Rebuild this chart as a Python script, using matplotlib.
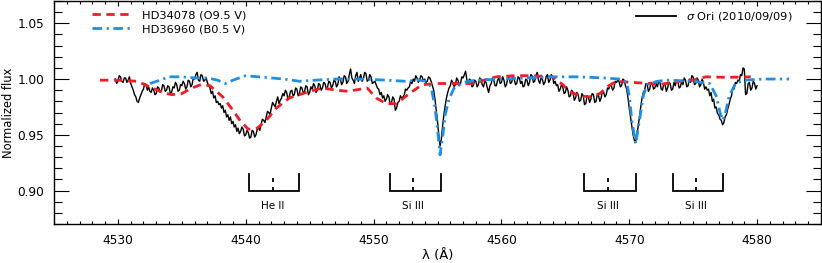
import numpy as np
import matplotlib
matplotlib.use("Agg")
import matplotlib.pyplot as plt
from matplotlib.ticker import MultipleLocator, FormatStrFormatter
from matplotlib.lines import Line2D

# ---------------- data ----------------
# Observed sigma Ori spectrum (0.1 A sampling, starting at 4529.8 A)
obs_start = 4529.8
obs_step = 0.1
obs_flux = [
    1.000, 0.996,                                                          # 4529.8-4529.9
    0.998, 1.003, 1.002, 0.998, 0.997, 1.001, 1.001, 0.997, 0.999, 1.002,  # 4530
    0.996, 0.993, 0.990, 0.986, 0.984, 0.980, 0.979, 0.983, 0.986, 0.989,  # 4531
    0.991, 0.996, 0.995, 0.990, 0.993, 0.989, 0.988, 0.992, 0.990, 0.986,  # 4532
    0.987, 0.993, 0.992, 0.988, 0.989, 0.995, 0.994, 0.989, 0.990, 0.994,  # 4533
    0.993, 0.987, 0.988, 0.993, 0.992, 0.997, 0.995, 0.989, 0.990, 0.995,  # 4534
    0.994, 0.998, 0.996, 0.991, 0.993, 0.999, 0.998, 0.993, 0.995, 1.001,  # 4535
    1.000, 1.004, 1.006, 0.999, 0.998, 1.004, 1.003, 0.998, 0.999, 1.001,  # 4536
    0.997, 0.994, 0.992, 0.987, 0.989, 0.983, 0.985, 0.979, 0.980, 0.977,  # 4537
    0.978, 0.974, 0.976, 0.970, 0.972, 0.966, 0.968, 0.963, 0.966, 0.960,  # 4538
    0.962, 0.957, 0.959, 0.953, 0.956, 0.951, 0.953, 0.957, 0.955, 0.949,  # 4539
    0.950, 0.954, 0.952, 0.947, 0.948, 0.954, 0.953, 0.948, 0.950, 0.955,  # 4540
    0.956, 0.954, 0.959, 0.964, 0.963, 0.961, 0.966, 0.971, 0.970, 0.968,  # 4541
    0.974, 0.979, 0.977, 0.975, 0.980, 0.984, 0.978, 0.981, 0.983, 0.987,  # 4542
    0.985, 0.990, 0.988, 0.982, 0.984, 0.989, 0.990, 0.985, 0.986, 0.992,  # 4543
    0.991, 0.985, 0.987, 0.993, 0.992, 0.987, 0.989, 0.994, 0.993, 0.986,  # 4544
    0.988, 0.993, 0.991, 0.996, 0.994, 0.988, 0.990, 0.996, 0.995, 0.990,  # 4545
    0.992, 0.997, 0.996, 0.991, 0.993, 0.998, 0.997, 0.992, 0.994, 0.999,  # 4546
    0.998, 0.993, 0.995, 1.002, 1.000, 0.995, 0.997, 1.003, 1.002, 0.996,  # 4547
    0.998, 1.004, 1.009, 1.001, 0.999, 0.996, 1.003, 1.006, 0.998, 1.001,  # 4548
    1.004, 0.998, 1.000, 1.006, 1.005, 0.998, 0.999, 1.004, 1.002, 0.996,  # 4549
    0.997, 0.998, 0.995, 0.992, 0.991, 0.986, 0.988, 0.983, 0.985, 0.980,  # 4550
    0.982, 0.986, 0.984, 0.977, 0.979, 0.984, 0.982, 0.972, 0.974, 0.979,  # 4551
    0.980, 0.985, 0.983, 0.984, 0.986, 0.991, 0.990, 0.992, 0.993, 0.998,  # 4552
    0.996, 1.000, 0.998, 1.003, 1.001, 0.997, 0.999, 1.003, 1.002, 0.998,  # 4553
    1.000, 0.997, 0.998, 1.002, 1.001, 0.998, 0.994, 0.990, 0.982, 0.972,  # 4554
    0.962, 0.950, 0.940, 0.946, 0.958, 0.968, 0.976, 0.983, 0.988, 0.992,  # 4555
    0.994, 0.999, 0.997, 0.993, 0.995, 1.001, 0.999, 0.994, 0.996, 1.002,  # 4556
    1.001, 1.004, 1.007, 0.999, 0.996, 1.000, 0.999, 0.993, 0.994, 0.999,  # 4557
    0.998, 0.993, 0.995, 1.001, 1.000, 0.995, 0.993, 0.998, 0.997, 0.992,  # 4558
    0.988, 0.994, 0.996, 1.001, 0.999, 0.994, 0.994, 0.999, 1.001, 0.996,  # 4559
    0.997, 1.002, 0.999, 0.993, 0.995, 1.001, 1.002, 0.996, 0.997, 1.002,  # 4560
    1.000, 0.995, 0.996, 1.002, 1.001, 0.996, 0.998, 0.993, 0.994, 1.000,  # 4561
    0.999, 0.994, 0.997, 1.004, 1.003, 0.997, 0.998, 1.003, 1.006, 0.999,  # 4562
    0.996, 1.001, 1.000, 0.995, 0.997, 1.002, 1.004, 0.997, 0.999, 1.004,  # 4563
    1.002, 0.996, 0.998, 0.994, 0.995, 0.989, 0.991, 0.995, 0.993, 0.987,  # 4564
    0.988, 0.993, 0.990, 0.984, 0.985, 0.990, 0.988, 0.981, 0.983, 0.988,  # 4565
    0.986, 0.980, 0.981, 0.987, 0.985, 0.977, 0.978, 0.985, 0.984, 0.979,  # 4566
    0.982, 0.987, 0.986, 0.979, 0.980, 0.986, 0.985, 0.980, 0.983, 0.989,  # 4567
    0.988, 0.984, 0.986, 0.992, 0.991, 0.995, 0.994, 0.990, 0.992, 0.998,  # 4568
    0.997, 0.999, 0.998, 0.993, 0.994, 1.000, 0.999, 0.994, 0.991, 0.983,  # 4569
    0.974, 0.966, 0.958, 0.950, 0.945, 0.944, 0.950, 0.958, 0.966, 0.975,  # 4570
    0.983, 0.988, 0.990, 0.996, 0.995, 0.989, 0.991, 0.997, 0.996, 0.991,  # 4571
    0.992, 0.996, 0.993, 0.998, 0.997, 0.991, 0.990, 0.996, 0.995, 0.989,  # 4572
    0.992, 0.997, 0.996, 0.990, 0.991, 0.997, 0.994, 0.999, 0.998, 0.992,  # 4573
    0.993, 0.998, 0.995, 1.001, 0.999, 0.993, 0.994, 1.000, 0.997, 1.003,  # 4574
    1.002, 0.995, 0.996, 1.001, 0.999, 0.993, 0.995, 1.000, 0.997, 0.991,  # 4575
    0.993, 0.990, 0.991, 0.985, 0.988, 0.980, 0.982, 0.974, 0.975, 0.969,  # 4576
    0.968, 0.964, 0.963, 0.959, 0.961, 0.966, 0.968, 0.973, 0.977, 0.982,  # 4577
    0.985, 0.992, 0.991, 0.997, 0.996, 0.999, 0.998, 1.004, 1.003, 1.010,  # 4578
    1.009, 0.986, 0.987, 0.996, 0.997, 0.990, 0.992, 0.998, 0.996, 0.991,  # 4579
    0.994,                                                                 # 4580.0
]

# HD34078 (O9.5 V) template
red_wl = [4528.6, 4530.0, 4531.5, 4532.5, 4533.5, 4534.2, 4535.0, 4535.8, 4536.5,
          4537.2, 4538.2, 4539.0, 4539.6, 4540.2, 4540.9, 4541.6, 4542.4, 4543.4,
          4545.0, 4546.0, 4547.1, 4548.0, 4549.5, 4550.2, 4551.0, 4551.8, 4552.8,
          4553.8, 4555.0, 4556.0, 4557.7, 4559.6, 4561.0, 4562.4, 4564.0, 4564.8,
          4565.3, 4566.1, 4566.9, 4567.7, 4568.4, 4569.0, 4570.2, 4571.6, 4572.3,
          4573.9, 4575.0, 4576.0, 4577.6, 4579.5]
red_fx = [0.999, 0.999, 0.998, 0.993, 0.988, 0.986, 0.987, 0.992, 0.995,
          0.994, 0.984, 0.972, 0.962, 0.955, 0.956, 0.963, 0.974, 0.983,
          0.989, 0.992, 0.990, 0.989, 0.992, 0.983, 0.978, 0.978, 0.987,
          0.995, 0.996, 0.996, 0.996, 1.002, 1.003, 1.003, 1.002, 0.995,
          0.989, 0.985, 0.984, 0.987, 0.994, 0.998, 0.997, 0.996, 0.995,
          0.998, 0.999, 1.002, 1.0015, 1.002]

# HD36960 (B0.5 V) template
blue_wl = [4532.5, 4533.3, 4534.0, 4535.0, 4536.0, 4537.0, 4537.8, 4538.4, 4539.0,
           4540.0, 4541.0, 4542.0, 4543.0, 4544.2, 4545.5, 4547.0, 4549.0, 4551.0,
           4552.5, 4553.5, 4554.1, 4554.5, 4554.8, 4555.0, 4555.2, 4555.4, 4555.6,
           4555.9, 4556.3, 4557.0, 4558.0, 4560.0, 4562.0, 4564.0, 4566.0, 4568.0,
           4569.3, 4569.8, 4570.0, 4570.2, 4570.5, 4570.8, 4571.1, 4571.4, 4572.2,
           4573.0, 4575.0, 4576.3, 4576.8, 4577.1, 4577.3, 4577.5, 4577.8, 4578.3,
           4579.0, 4580.5, 4582.5]
blue_fx = [0.996, 0.999, 1.002, 1.002, 1.001, 1.001, 0.999, 0.996, 0.999,
           1.003, 1.002, 1.001, 1.000, 0.998, 0.999, 1.000, 1.000, 0.999,
           0.998, 0.999, 0.998, 0.993, 0.975, 0.955, 0.932, 0.948, 0.968,
           0.982, 0.992, 0.997, 0.999, 1.000, 1.001, 1.002, 1.002, 1.001,
           1.000, 0.997, 0.985, 0.963, 0.942, 0.963, 0.985, 0.995, 0.998,
           0.999, 0.998, 0.996, 0.985, 0.970, 0.963, 0.968, 0.984, 0.996,
           0.999, 1.000, 1.000]

# line identifications
line_labels = ["He II", "Si III", "Si III", "Si III"]
line_left = [4540.25, 4551.25, 4566.45, 4573.4]
line_center = [4542.1, 4553.1, 4568.3, 4575.2]
line_right = [4544.2, 4555.25, 4570.5, 4577.35]

# ---------------- plot ----------------
RED = "#ee1c24"
BLUE = "#1e8fe1"

fig = plt.figure(figsize=(8.22, 2.63), dpi=100)
ax = fig.add_axes([54 / 822, 39 / 263, 767 / 822, 223 / 263])

obs_wl = obs_start + obs_step * np.arange(len(obs_flux))

ax.plot(obs_wl, obs_flux, color="black", lw=1.0, zorder=2)
ax.plot(red_wl, red_fx, color=RED, lw=2.0, dashes=(3.0, 2.0), zorder=3)
ax.plot(blue_wl, blue_fx, color=BLUE, lw=2.0, dashes=(3.5, 1.6, 0.8, 1.6), zorder=3)

br_base = 0.900
br_top = 0.915
for lab, l, c, r in zip(line_labels, line_left, line_center, line_right):
    ax.plot([l, l, r, r], [br_top, br_base, br_base, br_top], color="black", lw=1.3,
            solid_joinstyle="miter")
    ax.plot([c, c], [br_base, br_top], color="black", lw=1.3, dashes=(2.2, 2.8))
    ax.text(c, 0.8865, lab, ha="center", va="center", fontsize=7.5)

ax.set_xlim(4525, 4585)
ax.set_ylim(0.87, 1.07)
ax.xaxis.set_major_locator(MultipleLocator(10))
ax.xaxis.set_minor_locator(MultipleLocator(1))
ax.yaxis.set_major_locator(MultipleLocator(0.05))
ax.yaxis.set_minor_locator(MultipleLocator(0.01))
ax.yaxis.set_major_formatter(FormatStrFormatter("%.2f"))

ax.tick_params(axis="both", which="both", direction="in", top=True, right=True,
               labelsize=8.7, width=0.8)
ax.tick_params(axis="y", which="major", length=11, pad=7)
ax.tick_params(axis="y", which="minor", length=5.5)
ax.tick_params(axis="x", which="major", length=3.6, pad=7)
ax.tick_params(axis="x", which="minor", length=1.9)
for s in ax.spines.values():
    s.set_linewidth(1.0)

ax.set_xlabel("λ (Å)", fontsize=9.5, labelpad=2)
ax.set_ylabel("Normalized flux", fontsize=8.3, labelpad=2)

h_red = Line2D([], [], color=RED, lw=2.0, dashes=(3.0, 2.0))
h_blue = Line2D([], [], color=BLUE, lw=2.0, dashes=(3.5, 1.6, 0.8, 1.6))
h_obs = Line2D([], [], color="black", lw=1.3)

leg1 = ax.legend([h_red, h_blue], ["HD34078 (O9.5 V)", "HD36960 (B0.5 V)"],
                 loc="upper left", bbox_to_anchor=(0.049, 0.958), frameon=False,
                 fontsize=8.2, handlelength=3.5, handletextpad=0.95,
                 labelspacing=0.35, borderpad=0, borderaxespad=0)
ax.add_artist(leg1)
ax.legend([h_obs], [r"$\sigma$ Ori (2010/09/09)"], loc="upper right",
          bbox_to_anchor=(0.9635, 0.958), frameon=False, fontsize=8.2,
          handlelength=3.5, handletextpad=0.95, borderpad=0, borderaxespad=0)

fig.savefig("out.png", dpi=100)
